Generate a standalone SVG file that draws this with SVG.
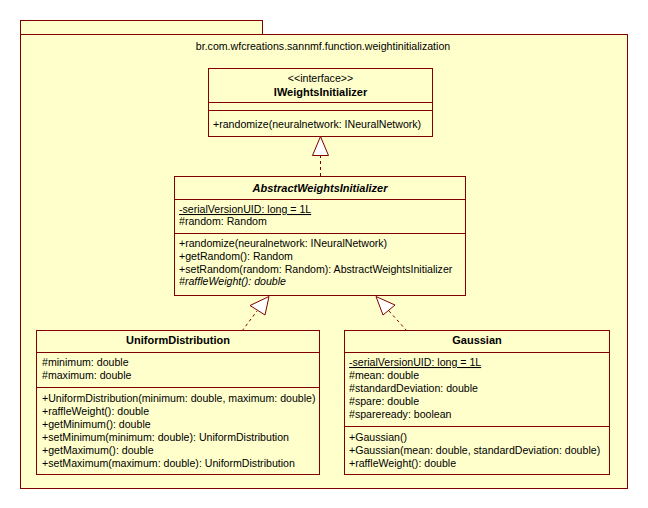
<svg xmlns="http://www.w3.org/2000/svg" width="648" height="508" viewBox="0 0 648 508">
<defs>
<style>
.box{fill:#FFFFCC;stroke:#800000;stroke-width:1}
.sep{stroke:#800000;stroke-width:1}
text{font-family:"Liberation Sans",Arial,sans-serif;font-size:10.6px;fill:#000}
.c{text-anchor:middle}
.b{font-weight:bold;font-size:11px}
.i{font-style:italic}
.u{text-decoration:underline}
.dash{stroke:#800000;stroke-width:1;stroke-dasharray:3,3;fill:none}
.head{fill:#FFFFFF;stroke:#800000;stroke-width:1}
</style>
</defs>
<rect width="648" height="508" fill="#FFFFFF"/>
<g id="package">
<rect class="box" x="20.5" y="20.5" width="242" height="14"/>
<rect class="box" x="20.5" y="34.5" width="607" height="454"/>
<text class="c" x="323" y="50">br.com.wfcreations.sannmf.function.weightinitialization</text>
</g>
<g id="connectors">
<line class="dash" x1="320.5" y1="155" x2="320.5" y2="176"/>
<polygon class="head" points="320.5,136.5 312.5,155.5 328.5,155.5"/>
<line class="dash" x1="242" y1="331" x2="257" y2="311"/>
<polygon class="head" points="269,296.5 250,305.5 265,315"/>
<line class="dash" x1="407" y1="331" x2="389" y2="311"/>
<polygon class="head" points="376,296.5 395,305 383,315"/>
</g>
<g id="IWeightsInitializer">
<rect class="box" x="208.5" y="68.5" width="224" height="68"/>
<line class="sep" x1="208.5" y1="102.5" x2="432.5" y2="102.5"/>
<line class="sep" x1="208.5" y1="110.5" x2="432.5" y2="110.5"/>
<text class="c" x="320.5" y="82">&lt;&lt;interface&gt;&gt;</text>
<text class="c b" x="320.5" y="96">IWeightsInitializer</text>
<text x="213" y="128">+randomize(neuralnetwork: INeuralNetwork)</text>
</g>
<g id="AbstractWeightsInitializer">
<rect class="box" x="174.5" y="176.5" width="291" height="119"/>
<line class="sep" x1="174.5" y1="199.5" x2="465.5" y2="199.5"/>
<line class="sep" x1="174.5" y1="233.5" x2="465.5" y2="233.5"/>
<text class="c b i" x="320" y="192">AbstractWeightsInitializer</text>
<text class="u" x="179" y="213">-serialVersionUID: long = 1L</text>
<text x="179" y="225">#random: Random</text>
<text x="179" y="247">+randomize(neuralnetwork: INeuralNetwork)</text>
<text x="179" y="260">+getRandom(): Random</text>
<text x="179" y="273">+setRandom(random: Random): AbstractWeightsInitializer</text>
<text class="i" x="179" y="285">#raffleWeight(): double</text>
</g>
<g id="UniformDistribution">
<rect class="box" x="36.5" y="330.5" width="283" height="144"/>
<line class="sep" x1="36.5" y1="352.5" x2="319.5" y2="352.5"/>
<line class="sep" x1="36.5" y1="387.5" x2="319.5" y2="387.5"/>
<text class="c b" x="178" y="344">UniformDistribution</text>
<text x="42" y="366">#minimum: double</text>
<text x="42" y="379">#maximum: double</text>
<text x="42" y="402">+UniformDistribution(minimum: double, maximum: double)</text>
<text x="42" y="415">+raffleWeight(): double</text>
<text x="42" y="428">+getMinimum(): double</text>
<text x="42" y="441">+setMinimum(minimum: double): UniformDistribution</text>
<text x="42" y="454">+getMaximum(): double</text>
<text x="42" y="467">+setMaximum(maximum: double): UniformDistribution</text>
</g>
<g id="Gaussian">
<rect class="box" x="344.5" y="330.5" width="265" height="144"/>
<line class="sep" x1="344.5" y1="352.5" x2="609.5" y2="352.5"/>
<line class="sep" x1="344.5" y1="426.5" x2="609.5" y2="426.5"/>
<text class="c b" x="477" y="344">Gaussian</text>
<text class="u" x="349" y="366">-serialVersionUID: long = 1L</text>
<text x="349" y="379">#mean: double</text>
<text x="349" y="392">#standardDeviation: double</text>
<text x="349" y="405">#spare: double</text>
<text x="349" y="418">#spareready: boolean</text>
<text x="349" y="441">+Gaussian()</text>
<text x="349" y="454">+Gaussian(mean: double, standardDeviation: double)</text>
<text x="349" y="467">+raffleWeight(): double</text>
</g>
</svg>
